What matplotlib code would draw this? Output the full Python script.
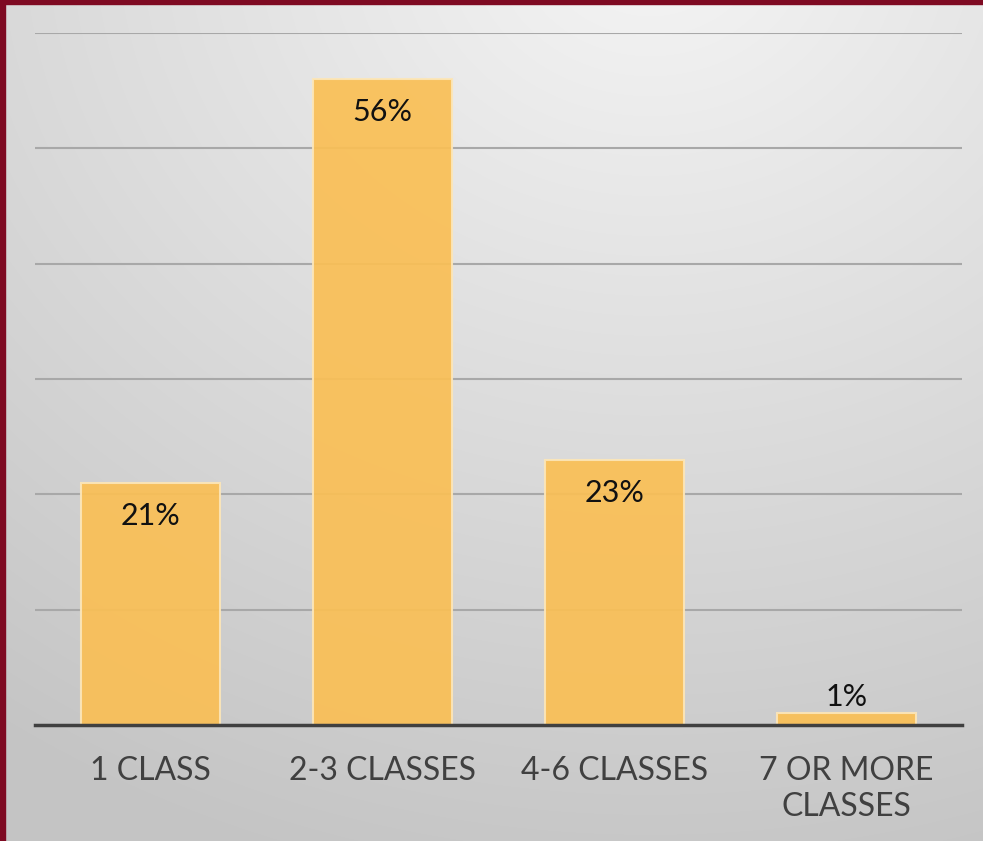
import matplotlib.pyplot as plt
import numpy as np

categories = ["1 CLASS", "2-3 CLASSES", "4-6 CLASSES", "7 OR MORE\nCLASSES"]
percents = [21, 56, 23, 1]
labels = ["21%", "56%", "23%", "1%"]

plt.rcParams['font.family'] = ['Lato', 'DejaVu Sans']

fig = plt.figure(figsize=(9.83, 8.41), dpi=100)

# gradient background
bg = fig.add_axes([0, 0, 1, 1])
yy, xx = np.mgrid[0:841, 0:983]
d = np.sqrt(((xx - 650) / 983.0) ** 2 + ((yy + 60) / 841.0) ** 2)
shade = 0.96 - 0.19 * np.clip(d / 1.15, 0, 1)
bg.imshow(np.dstack([shade] * 3), aspect='auto', extent=[0, 983, 841, 0])
bg.set_xlim(0, 983)
bg.set_ylim(841, 0)
bg.axis('off')
# dark red frame on top and left
bg.add_patch(plt.Rectangle((0, 0), 983, 4, color='#7E0A22'))
bg.add_patch(plt.Rectangle((0, 0), 5, 841, color='#7E0A22'))

ax = fig.add_axes([35 / 983, 1 - 725 / 841, 927 / 983, 692 / 841])
ax.patch.set_alpha(0)
x = np.arange(len(categories))
bars = ax.bar(x, percents, width=0.6, color='#FABF55', alpha=0.92,
              edgecolor='#FCE6B8', linewidth=1.5, zorder=2)
ax.set_xlim(-0.5, 3.5)
ax.set_ylim(0, 60)
ax.set_yticks(np.arange(10, 61, 10))
ax.yaxis.grid(True, color='#A8A8A8', linewidth=1.5, zorder=1)
ax.set_axisbelow(True)
ax.tick_params(axis='y', left=False, labelleft=False)
ax.tick_params(axis='x', length=0, pad=22)
ax.set_xticks(x)
ax.set_xticklabels(categories, fontsize=23, color='#404040', linespacing=1.25)
for s in ['top', 'left', 'right']:
    ax.spines[s].set_visible(False)
ax.spines['bottom'].set_color('#404040')
ax.spines['bottom'].set_linewidth(2.5)
ax.spines['bottom'].set_zorder(3)

for b, v, lab in zip(bars, percents, labels):
    off = -33 if v > 5 else 16
    ax.annotate(lab, (b.get_x() + b.get_width() / 2, v), xytext=(0, off),
                textcoords='offset pixels', ha='center', va='center',
                fontsize=22, color='#111111')

fig.savefig('out.png', dpi=100)
